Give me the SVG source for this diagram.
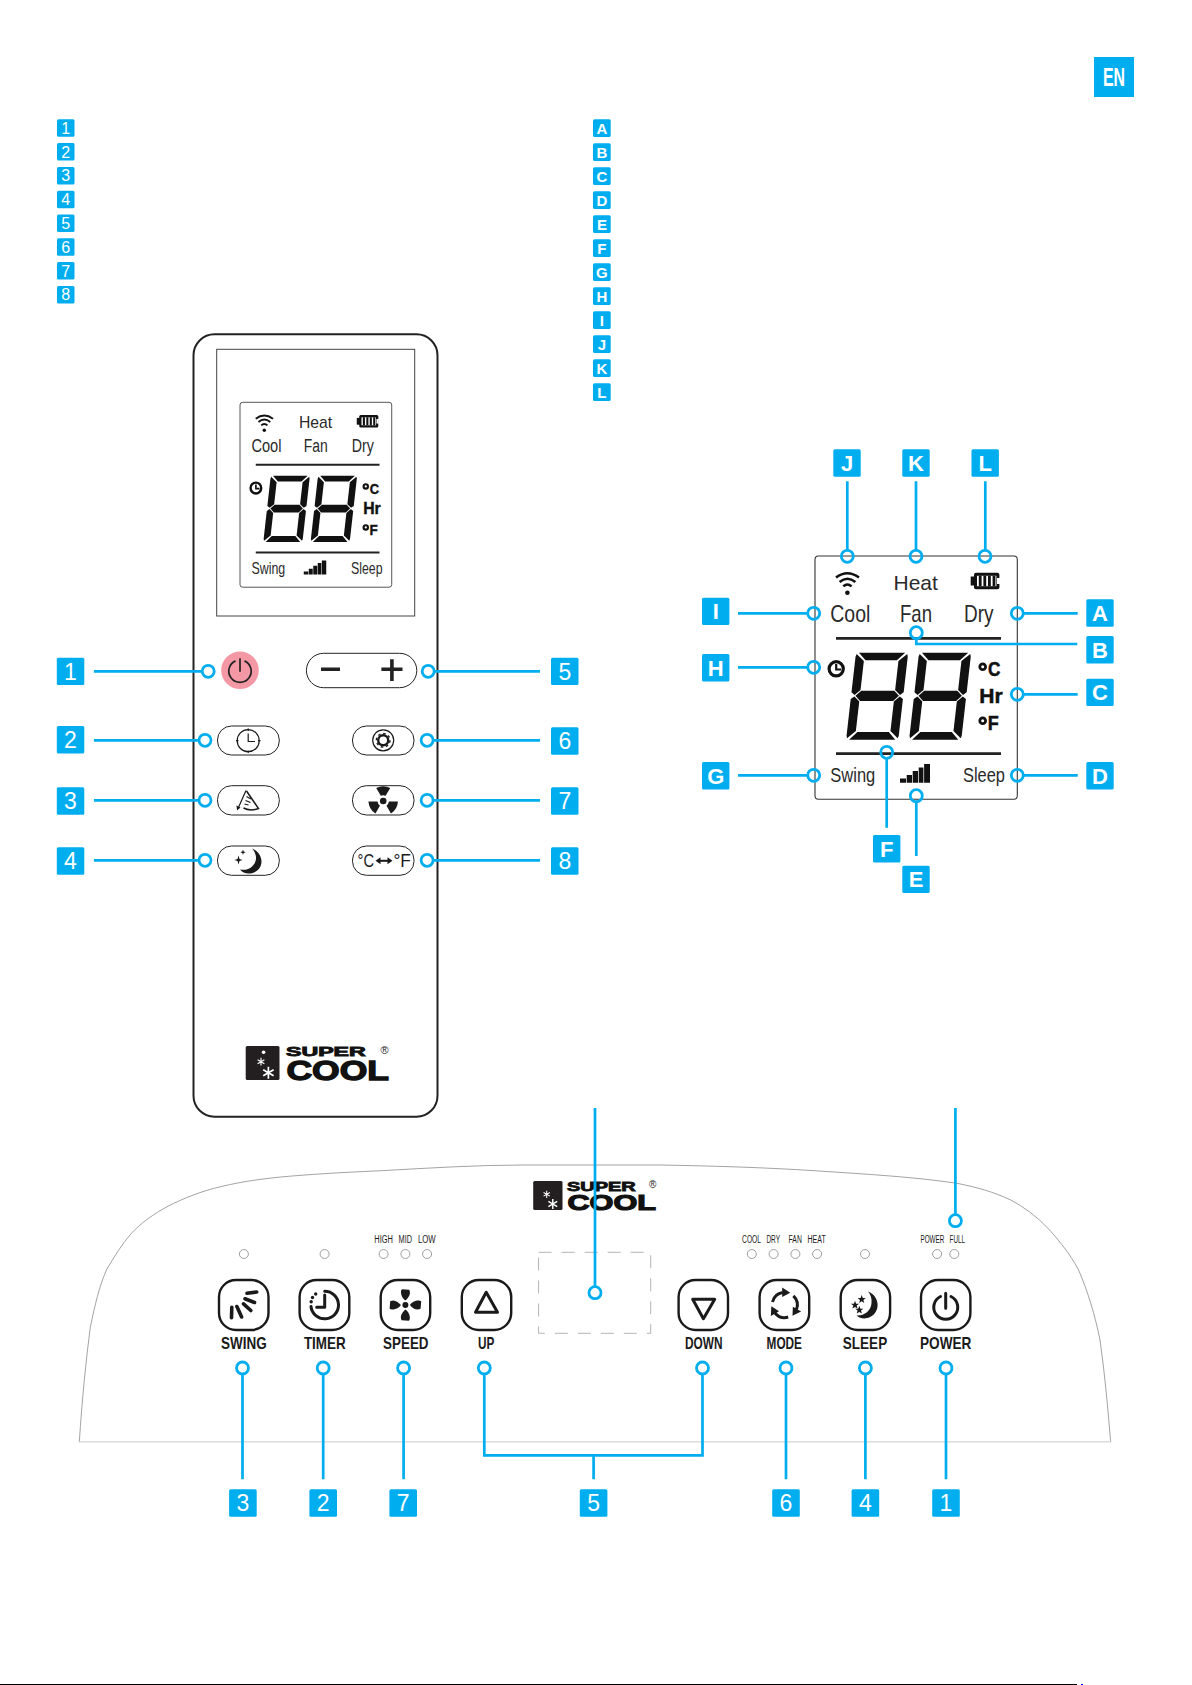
<svg xmlns="http://www.w3.org/2000/svg" width="1192" height="1685" viewBox="0 0 1192 1685">
<style>
text{font-family:"Liberation Sans",Arial,sans-serif}
.box{fill:#00aeef}
.num{fill:#fff;font-size:23px;text-anchor:middle}
.let{fill:#fff;font-size:22px;font-weight:700;text-anchor:middle}
.lnum{fill:#fff;font-size:16px;text-anchor:middle}
.llet{fill:#fff;font-size:15px;font-weight:700;text-anchor:middle}
.con{fill:none;stroke:#00aeef;stroke-width:2.7}
.ring{fill:none;stroke:#00aeef;stroke-width:2.8}
.pill{fill:#fff;stroke:#222;stroke-width:1}
.ic{fill:none;stroke:#1a1a1a;stroke-width:1.2}
.blk{fill:#1a1a1a}
.btn{fill:#fff;stroke:#1a1a1a;stroke-width:2.4}
.bi{fill:none;stroke:#1a1a1a;stroke-width:3;stroke-linecap:round;stroke-linejoin:round}
.blab{fill:#1a1a1a;font-size:16.3px;font-weight:700;text-anchor:middle}
.led{fill:#fff;stroke:#888;stroke-width:.8}
.ll{fill:#1a1a1a;font-size:10px}
.lcdt{fill:#2a2a2a}
.lb{fill:#111;stroke:#111;stroke-width:.5;font-weight:700}
.logo{fill:#111;stroke:#111;font-weight:700}
</style>
<defs>
<g id="digit" fill="#111">
<polygon points="3,0 49.2,0 41.8,7.6 10.4,7.6"/>
<polygon points="0.8,1.2 8.8,8.4 8.8,37.4 3.4,42.2 0,39.6 0,4"/>
<polygon points="51.4,1.2 43.4,8.4 43.4,37.4 48.8,42.2 52.2,39.6 52.2,4"/>
<polygon points="9.6,38 42.6,38 47.8,43 42.6,48.2 9.6,48.2 4.4,43"/>
<polygon points="0,46.4 3.4,43.8 8.8,48.8 8.8,78.4 0.8,85.6 0,83"/>
<polygon points="52.2,46.4 48.8,43.8 43.4,48.8 43.4,78.4 51.4,85.6 52.2,83"/>
<polygon points="3,87 10.4,79.2 41.8,79.2 49.2,87"/>
</g>
<g id="lcdArt">
<rect x="815" y="556" width="202.3" height="243.3" rx="3.5" fill="#fff" stroke="#333" stroke-width="1.1"/>
<path d="M836,638.3H1001M836,753.7H1001" stroke="#222" stroke-width="2.7"/>
<path d="M836,577.6Q847.3,569 859,577.6M839.6,582Q847.3,575.5 855.4,582M843.3,586.4Q847.3,582.5 851.6,586.4" fill="none" stroke="#111" stroke-width="2.5"/>
<circle cx="847.4" cy="592.7" r="2.3" fill="#111"/>
<rect x="970.7" y="576.5" width="5" height="9" fill="#111"/>
<rect x="974" y="572.8" width="25.4" height="16.4" rx="2" fill="#111"/>
<rect x="977" y="575.8" width="19.4" height="10.4" fill="#fff"/>
<path d="M980.2,575.8V586.2M984.8,575.8V586.2M989.4,575.8V586.2M994,575.8V586.2" stroke="#111" stroke-width="2.8"/>
<path d="M997,578h3v6h-3z" fill="#fff"/>
<circle cx="836.2" cy="668.8" r="7.1" fill="#fff" stroke="#111" stroke-width="3.2"/>
<path d="M836.2,664V669.5H841" fill="none" stroke="#111" stroke-width="2.2"/>
<use href="#digit" transform="translate(856,652.7) skewX(-6.5)"/>
<use href="#digit" transform="translate(919,652.7) skewX(-6.5)"/>
<circle cx="982.7" cy="666.7" r="2.9" fill="none" stroke="#111" stroke-width="2.8"/>
<circle cx="982.7" cy="720.7" r="2.9" fill="none" stroke="#111" stroke-width="2.8"/>
<path d="M900,782.7V778.6H906V782.7ZM906.7,782.7V775H912V782.7ZM912.7,782.7V771H918V782.7ZM918.7,782.7V767.6H923.4V782.7ZM924.1,782.7V764H930V782.7Z" fill="#111"/>
</g>
<path id="snow" d="M0,-6V6M-5.2,-3L5.2,3M-5.2,3L5.2,-3" stroke="#fff" stroke-width="1.7" fill="none"/>
<path id="fanbig" d="M0,-4.5C-3.5,-6.5 -6,-13.5 -3.4,-15.8L3.8,-15.2C6,-11 3,-7 0,-4.5Z" fill="#1a1a1a"/>
<path id="fansmall" d="M-2.4,-5.2L-7,-13Q0,-16.5 7,-13L2.4,-5.2Q0,-6.2 -2.4,-5.2Z" fill="#1a1a1a"/>
<g id="modearc"><path d="M-12.2,-3A12.6,12.6 0 0 1 -2,-12.4" fill="none" stroke="#1a1a1a" stroke-width="3"/><path d="M-2.5,-17.5L5.5,-12.2L-2.5,-8Z" fill="#1a1a1a"/></g>
<path id="star" d="M0,-4.2L1.1,-1.3L4.1,-1.2L1.7,0.6L2.6,3.6L0,1.9L-2.6,3.6L-1.7,0.6L-4.1,-1.2L-1.1,-1.3Z" fill="#1a1a1a"/>
</defs>

<rect width="1192" height="1685" fill="#fff"/>

<g id="lang-tag"><rect x="1094" y="57" width="40" height="40" class="box"/><text x="1114" y="86" textLength="22" lengthAdjust="spacingAndGlyphs" text-anchor="middle" font-size="25.5" font-weight="700" fill="#fff">EN</text></g>

<g id="legend-numbers">
<rect x="57" y="119.3" width="17.5" height="17.5" rx="1.5" class="box"/><text x="65.7" y="133.8" class="lnum">1</text>
<rect x="57" y="143.1" width="17.5" height="17.5" rx="1.5" class="box"/><text x="65.7" y="157.6" class="lnum">2</text>
<rect x="57" y="166.9" width="17.5" height="17.5" rx="1.5" class="box"/><text x="65.7" y="181.4" class="lnum">3</text>
<rect x="57" y="190.7" width="17.5" height="17.5" rx="1.5" class="box"/><text x="65.7" y="205.2" class="lnum">4</text>
<rect x="57" y="214.5" width="17.5" height="17.5" rx="1.5" class="box"/><text x="65.7" y="229" class="lnum">5</text>
<rect x="57" y="238.3" width="17.5" height="17.5" rx="1.5" class="box"/><text x="65.7" y="252.8" class="lnum">6</text>
<rect x="57" y="262.1" width="17.5" height="17.5" rx="1.5" class="box"/><text x="65.7" y="276.6" class="lnum">7</text>
<rect x="57" y="285.9" width="17.5" height="17.5" rx="1.5" class="box"/><text x="65.7" y="300.4" class="lnum">8</text>
</g>
<g id="legend-letters">
<rect x="593" y="119.3" width="17.7" height="17.7" rx="1.5" class="box"/><text x="601.9" y="133.6" class="llet">A</text>
<rect x="593" y="143.3" width="17.7" height="17.7" rx="1.5" class="box"/><text x="601.9" y="157.6" class="llet">B</text>
<rect x="593" y="167.3" width="17.7" height="17.7" rx="1.5" class="box"/><text x="601.9" y="181.6" class="llet">C</text>
<rect x="593" y="191.3" width="17.7" height="17.7" rx="1.5" class="box"/><text x="601.9" y="205.6" class="llet">D</text>
<rect x="593" y="215.3" width="17.7" height="17.7" rx="1.5" class="box"/><text x="601.9" y="229.6" class="llet">E</text>
<rect x="593" y="239.3" width="17.7" height="17.7" rx="1.5" class="box"/><text x="601.9" y="253.6" class="llet">F</text>
<rect x="593" y="263.3" width="17.7" height="17.7" rx="1.5" class="box"/><text x="601.9" y="277.6" class="llet">G</text>
<rect x="593" y="287.3" width="17.7" height="17.7" rx="1.5" class="box"/><text x="601.9" y="301.6" class="llet">H</text>
<rect x="593" y="311.3" width="17.7" height="17.7" rx="1.5" class="box"/><text x="601.9" y="325.6" class="llet">I</text>
<rect x="593" y="335.3" width="17.7" height="17.7" rx="1.5" class="box"/><text x="601.9" y="349.6" class="llet">J</text>
<rect x="593" y="359.3" width="17.7" height="17.7" rx="1.5" class="box"/><text x="601.9" y="373.6" class="llet">K</text>
<rect x="593" y="383.3" width="17.7" height="17.7" rx="1.5" class="box"/><text x="601.9" y="397.6" class="llet">L</text>
</g>

<g id="remote">
<rect x="193.5" y="334.3" width="244" height="782.4" rx="21" fill="#fff" stroke="#222" stroke-width="2"/>
<rect x="216.7" y="349.3" width="198" height="266.7" fill="#fff" stroke="#444" stroke-width="1"/>
<g id="remote-lcd">
<g transform="translate(-371.25,-20.26) scale(.75,.76)">
<use href="#lcdArt"/>
<text x="915.7" y="590" text-anchor="middle" font-size="21" class="lcdt">Heat</text>
<text x="830.3" y="621.7" font-size="24" textLength="40" lengthAdjust="spacingAndGlyphs" class="lcdt">Cool</text>
<text x="900" y="621.7" font-size="24" textLength="32" lengthAdjust="spacingAndGlyphs" class="lcdt">Fan</text>
<text x="964" y="621.7" font-size="24" textLength="29.5" lengthAdjust="spacingAndGlyphs" class="lcdt">Dry</text>
<text x="830.3" y="781.7" font-size="21" textLength="45" lengthAdjust="spacingAndGlyphs" class="lcdt">Swing</text>
<text x="963" y="781.7" font-size="21" textLength="42" lengthAdjust="spacingAndGlyphs" class="lcdt">Sleep</text>
<text x="988" y="676.4" font-size="20" textLength="12.4" lengthAdjust="spacingAndGlyphs" class="lb">C</text>
<text x="979.3" y="703.3" font-size="21" textLength="23.4" lengthAdjust="spacingAndGlyphs" class="lb">Hr</text>
<text x="987.7" y="730.2" font-size="20" textLength="11" lengthAdjust="spacingAndGlyphs" class="lb">F</text>
</g>
</g>
<g id="btn-power">
<circle cx="240" cy="670.3" r="18.8" fill="#f598a6"/>
<path d="M235.5,660.9A11.2,11.2 0 1 0 244.5,660.9M240,658.3V671.7" fill="none" stroke="#222" stroke-width="1.7"/>
</g>
<g id="btn-plusminus">
<rect x="306.4" y="653.3" width="110.4" height="34.4" rx="17.2" class="pill"/>
<path d="M321,669.3H340M381.4,669.3H402.5M391.9,659.3V681" fill="none" stroke="#222" stroke-width="3.6"/>
</g>
<g id="btn-timer">
<rect x="217.5" y="726" width="61.8" height="29" rx="14" class="pill"/>
<circle cx="248.2" cy="740.7" r="11" class="ic"/>
<path d="M248.2,733.5V741.5H255M248.2,728.5v2.5M248.2,750.5v2.5M236,740.7h2.5M258,740.7h2.5" class="ic"/>
</g>
<g id="btn-swing">
<rect x="217.5" y="785.7" width="61.8" height="29.3" rx="14" class="pill"/>
<path d="M246,790.5L238,808.5" class="ic"/>
<path d="M236.5,805.5L237,810.5L240.5,807.5Z" class="blk"/>
<path d="M246.5,791L258.5,808.5Q250,811.5 243.5,808" fill="none" stroke="#1a1a1a" stroke-width="1.5"/>
<path d="M246.5,796.5L251,799M245.5,800.5L250.5,802.5M244.5,804L248.5,805" class="ic"/>
</g>
<g id="btn-sleep">
<rect x="217.5" y="846" width="61.8" height="29.3" rx="14" class="pill"/>
<path d="M252,848.5C263,852.5 265,867 255,872C249,875 243,873.5 240,869.5C249,871.5 256.5,865 256,857C255.5,853 254,850.5 252,848.5Z" class="blk"/>
<path d="M238.5,855.5l1,3.5 3,1-3,1-1,3.5-1-3.5-3-1 3-1ZM243,849.5l.7,2 2,.7-2,.7-.7,2-.7-2-2-.7 2-.7Z" class="blk"/>
</g>
<g id="btn-gear">
<rect x="352.5" y="726" width="61.5" height="29" rx="14" class="pill"/>
<circle cx="383.2" cy="740.3" r="10.5" class="ic"/>
<circle cx="383.2" cy="740.3" r="5" fill="none" stroke="#1a1a1a" stroke-width="2.4"/>
<circle cx="383.2" cy="740.3" r="6.8" fill="none" stroke="#1a1a1a" stroke-width="1.4" stroke-dasharray="2.5 2.8"/>
</g>
<g id="btn-fan">
<rect x="352.5" y="785.7" width="61.5" height="29.3" rx="14" class="pill"/>
<circle cx="383.2" cy="801" r="3.3" class="blk"/>
<use href="#fansmall" transform="translate(383.2,801)"/>
<use href="#fansmall" transform="translate(383.2,801) rotate(120)"/>
<use href="#fansmall" transform="translate(383.2,801) rotate(240)"/>
</g>
<g id="btn-unit">
<rect x="352.5" y="846" width="61.5" height="29.3" rx="14" class="pill"/>
<text x="357.5" y="867.3" font-size="19" textLength="16.5" lengthAdjust="spacingAndGlyphs" fill="#1a1a1a">°C</text>
<path d="M378,860.8H390" stroke="#1a1a1a" stroke-width="2"/>
<path d="M375.5,860.8L380.5,857.3V864.3ZM392.5,860.8L387.5,857.3V864.3Z" class="blk"/>
<text x="393.4" y="867.3" font-size="19" textLength="17.5" lengthAdjust="spacingAndGlyphs" fill="#1a1a1a">°F</text>
</g>
<g id="remote-logo">
<rect x="245.7" y="1046" width="33.8" height="34" rx="1.5" fill="#231f20"/>
<circle cx="263.6" cy="1052.3" r="1.8" fill="#fff"/>
<use href="#snow" transform="translate(261,1061.7) scale(.65)"/>
<use href="#snow" transform="translate(268.4,1072.7)"/>
<text x="286" y="1056.4" font-size="12.4" textLength="79.7" lengthAdjust="spacingAndGlyphs" stroke-width=".8" class="logo">SUPER</text>
<text x="286.5" y="1079.6" font-size="27" textLength="102.5" lengthAdjust="spacingAndGlyphs" stroke-width="1.3" class="logo">COOL</text>
<text x="380.5" y="1054" font-size="11" fill="#222">®</text>
</g>
</g>

<g id="lcd-detail">
<use href="#lcdArt"/>
<text x="915.7" y="590" text-anchor="middle" font-size="21" class="lcdt">Heat</text>
<text x="830.3" y="621.7" font-size="24" textLength="40" lengthAdjust="spacingAndGlyphs" class="lcdt">Cool</text>
<text x="900" y="621.7" font-size="24" textLength="32" lengthAdjust="spacingAndGlyphs" class="lcdt">Fan</text>
<text x="964" y="621.7" font-size="24" textLength="29.5" lengthAdjust="spacingAndGlyphs" class="lcdt">Dry</text>
<text x="830.3" y="781.7" font-size="21" textLength="45" lengthAdjust="spacingAndGlyphs" class="lcdt">Swing</text>
<text x="963" y="781.7" font-size="21" textLength="42" lengthAdjust="spacingAndGlyphs" class="lcdt">Sleep</text>
<text x="988" y="676.4" font-size="20" textLength="12.4" lengthAdjust="spacingAndGlyphs" class="lb">C</text>
<text x="979.3" y="703.3" font-size="21" textLength="23.4" lengthAdjust="spacingAndGlyphs" class="lb">Hr</text>
<text x="987.7" y="730.2" font-size="20" textLength="11" lengthAdjust="spacingAndGlyphs" class="lb">F</text>
</g>

<g id="panel">
<path d="M79.3,1442.3C82,1400 86,1360 90.4,1326.7C95,1305 99,1287 106.4,1270C114,1257 122,1244 131.4,1233.3C142,1222 154,1214 167,1206.7C184,1198 202,1191 220.7,1186.7C244,1181 268,1178 292,1176C322,1173.5 352,1172 381.4,1170.7C430,1168 478,1165 524,1165H660.7C715,1166 765,1167.5 814,1170.7C865,1174 915,1177 957,1183.3C976,1187 994,1192 1010.7,1200C1024,1207 1036,1216 1046.4,1226.7C1059,1240 1070,1254 1078.6,1270C1088,1292 1095,1315 1100,1340C1105,1375 1108,1410 1110.7,1442.3" fill="none" stroke="#8c8c8c" stroke-width=".8"/>
<path d="M79.3,1441.7H1110.7" stroke="#dcdcdc" stroke-width="1.6"/>
<rect x="538.6" y="1252.3" width="112.1" height="81" fill="none" stroke="#b4b4b4" stroke-width="1" stroke-dasharray="13 10"/>
<g id="panel-logo">
<rect x="533.2" y="1181" width="29.3" height="29" rx="1.5" fill="#231f20"/>
<use href="#snow" transform="translate(546.7,1194.3) scale(.6)"/>
<use href="#snow" transform="translate(552.8,1204) scale(.85)"/>
<text x="567" y="1190.5" font-size="12.4" textLength="68.7" lengthAdjust="spacingAndGlyphs" stroke-width=".8" class="logo">SUPER</text>
<text x="567.5" y="1209.6" font-size="21.5" textLength="88.4" lengthAdjust="spacingAndGlyphs" stroke-width="1.2" class="logo">COOL</text>
<text x="649" y="1188" font-size="10" fill="#222">®</text>
</g>
<g id="indicators">
<circle cx="243.9" cy="1254" r="4.5" class="led"/>
<circle cx="324.6" cy="1254" r="4.5" class="led"/>
<circle cx="383.6" cy="1254" r="4.5" class="led"/>
<circle cx="405.4" cy="1254" r="4.5" class="led"/>
<circle cx="427.1" cy="1254" r="4.5" class="led"/>
<circle cx="751.8" cy="1254" r="4.5" class="led"/>
<circle cx="773.6" cy="1254" r="4.5" class="led"/>
<circle cx="795.4" cy="1254" r="4.5" class="led"/>
<circle cx="817.1" cy="1254" r="4.5" class="led"/>
<circle cx="865" cy="1254" r="4.5" class="led"/>
<circle cx="937.1" cy="1254" r="4.5" class="led"/>
<circle cx="954.3" cy="1254" r="4.5" class="led"/>
<text x="374.3" y="1243.3" textLength="18.6" lengthAdjust="spacingAndGlyphs" class="ll">HIGH</text>
<text x="398.6" y="1243.3" textLength="13.5" lengthAdjust="spacingAndGlyphs" class="ll">MID</text>
<text x="417.9" y="1243.3" textLength="17.8" lengthAdjust="spacingAndGlyphs" class="ll">LOW</text>
<text x="742.1" y="1243.3" textLength="18.9" lengthAdjust="spacingAndGlyphs" class="ll">COOL</text>
<text x="766.4" y="1243.3" textLength="13.6" lengthAdjust="spacingAndGlyphs" class="ll">DRY</text>
<text x="788.6" y="1243.3" textLength="13.2" lengthAdjust="spacingAndGlyphs" class="ll">FAN</text>
<text x="807.5" y="1243.3" textLength="18.2" lengthAdjust="spacingAndGlyphs" class="ll">HEAT</text>
<text transform="translate(920.4,1243.3) scale(.635,1)" class="ll">POWER</text>
<text x="949.6" y="1243.3" textLength="15.4" lengthAdjust="spacingAndGlyphs" class="ll">FULL</text>
</g>
<g id="panel-swing">
<rect x="219" y="1280" width="49.5" height="50" rx="17" class="btn"/>
<path d="M247,1293.3L256.7,1292M245,1298.8L254.5,1302.5M243.5,1303.8L250.8,1310.5M236.9,1306.5L241.6,1317M231.8,1307.3L231.5,1317.8" class="bi" style="stroke-width:3.6"/>
<text x="243.9" y="1349.3" textLength="45.7" lengthAdjust="spacingAndGlyphs" class="blab">SWING</text>
</g>
<g id="panel-timer">
<rect x="299.6" y="1280" width="49.7" height="50" rx="17" class="btn"/>
<path d="M324.7,1291.2A13.8,13.8 0 1 1 311,1306.5" class="bi"/>
<path d="M324.7,1295V1307.3H316.7" class="bi"/>
<circle cx="315.7" cy="1294" r="1.7" class="blk"/><circle cx="312.5" cy="1297.5" r="1.7" class="blk"/><circle cx="311.2" cy="1301.8" r="1.7" class="blk"/>
<text x="324.8" y="1349.3" textLength="41.8" lengthAdjust="spacingAndGlyphs" class="blab">TIMER</text>
</g>
<g id="panel-speed">
<rect x="380.7" y="1280" width="49.5" height="50" rx="17" class="btn"/>
<circle cx="405.4" cy="1305" r="3" class="blk"/>
<use href="#fanbig" transform="translate(405.4,1305)"/>
<use href="#fanbig" transform="translate(405.4,1305) rotate(90)"/>
<use href="#fanbig" transform="translate(405.4,1305) rotate(180)"/>
<use href="#fanbig" transform="translate(405.4,1305) rotate(270)"/>
<text x="405.8" y="1349.3" textLength="45.4" lengthAdjust="spacingAndGlyphs" class="blab">SPEED</text>
</g>
<g id="panel-up">
<rect x="461.8" y="1280" width="49.4" height="50" rx="17" class="btn"/>
<path d="M486.2,1292.3L475.5,1312.2H497.5Z" class="bi"/>
<text x="486.1" y="1349.3" textLength="16.4" lengthAdjust="spacingAndGlyphs" class="blab">UP</text>
</g>
<g id="panel-down">
<rect x="678.6" y="1280" width="49.4" height="50" rx="17" class="btn"/>
<path d="M703.4,1318.7L692.7,1299.3H714.7Z" class="bi"/>
<text x="703.8" y="1349.3" textLength="37.5" lengthAdjust="spacingAndGlyphs" class="blab">DOWN</text>
</g>
<g id="panel-mode">
<rect x="759.6" y="1280" width="49.6" height="50" rx="17" class="btn"/>
<use href="#modearc" transform="translate(784.7,1305)"/>
<use href="#modearc" transform="translate(784.7,1305) rotate(120)"/>
<use href="#modearc" transform="translate(784.7,1305) rotate(240)"/>
<text x="784.3" y="1349.3" textLength="35.4" lengthAdjust="spacingAndGlyphs" class="blab">MODE</text>
</g>
<g id="panel-sleep">
<rect x="840.7" y="1280" width="49.4" height="50" rx="17" class="btn"/>
<path d="M868,1291.5C880,1296 881,1312 870,1317C865,1319.5 860,1318.5 856.5,1315.5C864,1316 871,1311 871.5,1303C872,1298 870.5,1294.5 868,1291.5Z" class="blk"/>
<use href="#star" transform="translate(861.7,1299.3)"/>
<use href="#star" transform="translate(855,1305)"/>
<use href="#star" transform="translate(859.3,1310)"/>
<text x="865" y="1349.3" textLength="44.3" lengthAdjust="spacingAndGlyphs" class="blab">SLEEP</text>
</g>
<g id="panel-power">
<rect x="921" y="1280" width="49.4" height="50" rx="17" class="btn"/>
<path d="M940.5,1296.5A12,12 0 1 0 951,1296.5M945.7,1293.3V1308.3" class="bi"/>
<text x="945.7" y="1349.3" textLength="51.4" lengthAdjust="spacingAndGlyphs" class="blab">POWER</text>
</g>
</g>

<g id="connectors">
<path class="con" d="M93.9,671.3H202.2M93.9,740.3H199M93.9,800.3H199M93.9,860.3H199"/>
<path class="con" d="M540,671.3H434.2M540,740.3H433.1M540,800.3H433.1M540,860.3H433.1"/>
<circle class="ring" cx="208.2" cy="671.3" r="6"/><circle class="ring" cx="205" cy="740.3" r="6"/><circle class="ring" cx="205" cy="800.3" r="6"/><circle class="ring" cx="205" cy="860.3" r="6"/>
<circle class="ring" cx="428.2" cy="671.3" r="6"/><circle class="ring" cx="427.1" cy="740.3" r="6"/><circle class="ring" cx="427.1" cy="800.3" r="6"/><circle class="ring" cx="427.1" cy="860.3" r="6"/>
<path class="con" d="M847.3,481.3V550.3M916,481.3V550.3M985.3,481.3V550.3"/>
<path class="con" d="M738,613.3H807.7M738,667.3H807.7M738,775.3H807.7"/>
<path class="con" d="M1077.7,613.3H1023.3M1077.7,694.3H1023.3M1077.7,775.3H1023.3"/>
<path class="con" d="M916.3,638.7V644H1077.3M886.7,758.3V827.7M916.3,801.7V856"/>
<circle class="ring" cx="847.3" cy="556.3" r="6"/><circle class="ring" cx="916" cy="556.3" r="6"/><circle class="ring" cx="985" cy="556.3" r="6"/>
<circle class="ring" cx="813.7" cy="613.3" r="6"/><circle class="ring" cx="813.7" cy="667.3" r="6"/><circle class="ring" cx="813.7" cy="775.3" r="6"/>
<circle class="ring" cx="1017.3" cy="613.3" r="6"/><circle class="ring" cx="1017.3" cy="694.3" r="6"/><circle class="ring" cx="1017.3" cy="775.3" r="6"/>
<circle class="ring" cx="916.3" cy="632.7" r="6"/><circle class="ring" cx="886.7" cy="752.3" r="6"/><circle class="ring" cx="916.3" cy="795.7" r="6"/>
<path class="con" d="M595,1108V1286.7M955.4,1108V1214.7"/>
<circle class="ring" cx="595" cy="1292.7" r="6"/><circle class="ring" cx="955.4" cy="1220.7" r="6"/>
<path class="con" d="M242.5,1374V1479.3M323.2,1374V1479.3M403.6,1374V1479.3M786,1374V1479.3M865.4,1374V1479.3M946,1374V1479.3"/>
<path class="con" d="M484.3,1374V1455.3H702.5V1374M593.6,1455.3V1479.3"/>
<circle class="ring" cx="242.5" cy="1368" r="6"/><circle class="ring" cx="323.2" cy="1368" r="6"/><circle class="ring" cx="403.6" cy="1368" r="6"/><circle class="ring" cx="484.3" cy="1368" r="6"/><circle class="ring" cx="702.5" cy="1368" r="6"/><circle class="ring" cx="786" cy="1368" r="6"/><circle class="ring" cx="865.4" cy="1368" r="6"/><circle class="ring" cx="946" cy="1368" r="6"/>
</g>

<g id="callouts-remote">
<g id="r1"><rect x="56.8" y="657.7" width="27.5" height="27.4" rx="1.5" class="box"/><text x="70.5" y="679.6" class="num">1</text></g>
<g id="r2"><rect x="56.8" y="726" width="27.5" height="27.4" rx="1.5" class="box"/><text x="70.5" y="747.9" class="num">2</text></g>
<g id="r3"><rect x="56.8" y="787.3" width="27.5" height="27.4" rx="1.5" class="box"/><text x="70.5" y="809.2" class="num">3</text></g>
<g id="r4"><rect x="56.8" y="847.3" width="27.5" height="27.4" rx="1.5" class="box"/><text x="70.5" y="869.2" class="num">4</text></g>
<g id="r5"><rect x="551" y="657.7" width="27.5" height="27.4" rx="1.5" class="box"/><text x="564.8" y="679.6" class="num">5</text></g>
<g id="r6"><rect x="551" y="727.3" width="27.5" height="27.4" rx="1.5" class="box"/><text x="564.8" y="749.2" class="num">6</text></g>
<g id="r7"><rect x="551" y="787.3" width="27.5" height="27.4" rx="1.5" class="box"/><text x="564.8" y="809.2" class="num">7</text></g>
<g id="r8"><rect x="551" y="847.3" width="27.5" height="27.4" rx="1.5" class="box"/><text x="564.8" y="869.2" class="num">8</text></g>
</g>
<g id="callouts-lcd">
<g id="lA"><rect x="1086.3" y="599.3" width="27.4" height="27.4" rx="1.5" class="box"/><text x="1100" y="621" class="let">A</text></g>
<g id="lB"><rect x="1086.3" y="636" width="27.4" height="27.4" rx="1.5" class="box"/><text x="1100" y="657.7" class="let">B</text></g>
<g id="lC"><rect x="1086.3" y="678.7" width="27.4" height="27.4" rx="1.5" class="box"/><text x="1100" y="700.4" class="let">C</text></g>
<g id="lD"><rect x="1086.3" y="762" width="27.4" height="27.4" rx="1.5" class="box"/><text x="1100" y="783.7" class="let">D</text></g>
<g id="lE"><rect x="902.3" y="865.7" width="27.4" height="27.4" rx="1.5" class="box"/><text x="916" y="887.4" class="let">E</text></g>
<g id="lF"><rect x="873" y="835" width="27.4" height="27.4" rx="1.5" class="box"/><text x="886.7" y="856.7" class="let">F</text></g>
<g id="lG"><rect x="702" y="762" width="27.4" height="27.4" rx="1.5" class="box"/><text x="715.7" y="783.7" class="let">G</text></g>
<g id="lH"><rect x="702" y="654" width="27.4" height="27.4" rx="1.5" class="box"/><text x="715.7" y="675.7" class="let">H</text></g>
<g id="lI"><rect x="702" y="597.7" width="27.4" height="27.4" rx="1.5" class="box"/><text x="715.7" y="619.4" class="let">I</text></g>
<g id="lJ"><rect x="833.3" y="449.3" width="27.4" height="27.4" rx="1.5" class="box"/><text x="847" y="471" class="let">J</text></g>
<g id="lK"><rect x="902.3" y="449.3" width="27.4" height="27.4" rx="1.5" class="box"/><text x="916" y="471" class="let">K</text></g>
<g id="lL"><rect x="971.5" y="449.3" width="27.4" height="27.4" rx="1.5" class="box"/><text x="985.2" y="471" class="let">L</text></g>
</g>
<g id="callouts-panel">
<g id="p3"><rect x="229.1" y="1489.3" width="27.6" height="27.4" rx="1.5" class="box"/><text x="242.9" y="1511.2" class="num">3</text></g>
<g id="p2"><rect x="309.4" y="1489.3" width="27.6" height="27.4" rx="1.5" class="box"/><text x="323.2" y="1511.2" class="num">2</text></g>
<g id="p7"><rect x="389.4" y="1489.3" width="27.6" height="27.4" rx="1.5" class="box"/><text x="403.2" y="1511.2" class="num">7</text></g>
<g id="p5"><rect x="579.8" y="1489.3" width="27.6" height="27.4" rx="1.5" class="box"/><text x="593.6" y="1511.2" class="num">5</text></g>
<g id="p6"><rect x="772.2" y="1489.3" width="27.6" height="27.4" rx="1.5" class="box"/><text x="786" y="1511.2" class="num">6</text></g>
<g id="p4"><rect x="851.6" y="1489.3" width="27.6" height="27.4" rx="1.5" class="box"/><text x="865.4" y="1511.2" class="num">4</text></g>
<g id="p1"><rect x="932.2" y="1489.3" width="27.6" height="27.4" rx="1.5" class="box"/><text x="946" y="1511.2" class="num">1</text></g>
</g>
<g id="page-rule"><rect x="0" y="1684" width="1077" height="1" fill="#000"/><rect x="1081" y="1684" width="2" height="1" fill="#00f"/></g>
</svg>
